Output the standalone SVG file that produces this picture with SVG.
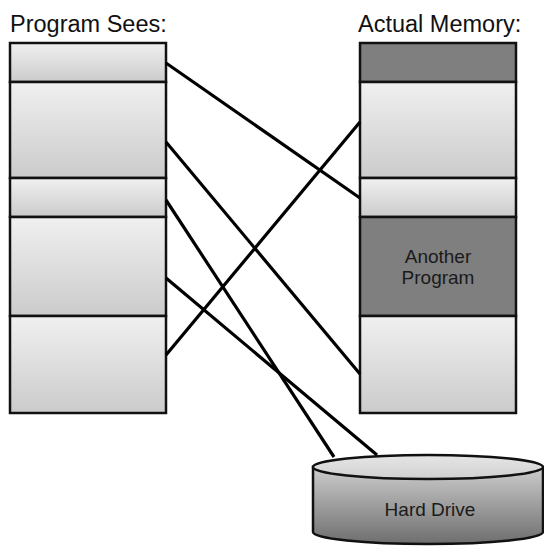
<svg xmlns="http://www.w3.org/2000/svg" width="544" height="546" viewBox="0 0 544 546">
<defs>
<linearGradient id="light" x1="0" y1="0" x2="0" y2="1">
<stop offset="0" stop-color="#f0f0f0"/>
<stop offset="1" stop-color="#cbcbcb"/>
</linearGradient>
<linearGradient id="drum" x1="0" y1="0" x2="0" y2="1">
<stop offset="0" stop-color="#cdcdcd"/>
<stop offset="1" stop-color="#6e6e6e"/>
</linearGradient>
<linearGradient id="lid" x1="0" y1="0" x2="0" y2="1">
<stop offset="0" stop-color="#e6e6e6"/>
<stop offset="1" stop-color="#d0d0d0"/>
</linearGradient>
</defs>
<style>
.title{font-family:"Liberation Sans",Arial,sans-serif;font-size:23.5px;fill:#111}
.lbl{font-family:"Liberation Sans",Arial,sans-serif;font-size:19px;fill:#1a1a1a;text-anchor:middle}
.blk{fill:url(#light);stroke:#111;stroke-width:2.5}
.dark{fill:#7f7f7f;stroke:#111;stroke-width:2.5}
.conn{stroke:#000;stroke-width:3.2;fill:none;stroke-linecap:butt}
</style>
<text class="title" x="10" y="31.5">Program Sees:</text>
<text class="title" x="358" y="31.5">Actual Memory:</text>
<g id="program-sees">
<rect id="ps1" class="blk" x="10" y="43" width="156" height="39"/>
<rect id="ps2" class="blk" x="10" y="82" width="156" height="96"/>
<rect id="ps3" class="blk" x="10" y="178" width="156" height="39"/>
<rect id="ps4" class="blk" x="10" y="217" width="156" height="99"/>
<rect id="ps5" class="blk" x="10" y="316" width="156" height="97"/>
</g>
<g id="actual-memory">
<rect id="am1" class="dark" x="360" y="43" width="156" height="39"/>
<rect id="am2" class="blk" x="360" y="82" width="156" height="96"/>
<rect id="am3" class="blk" x="360" y="178" width="156" height="39"/>
<g id="another-program">
<rect class="dark" x="360" y="217" width="156" height="99"/>
<text class="lbl" x="438" y="263">Another</text>
<text class="lbl" x="438" y="284">Program</text>
</g>
<rect id="am5" class="blk" x="360" y="316" width="156" height="97"/>
</g>
<g id="hard-drive">
<path d="M313,467 L313,532 A115,12 0 0 0 543,532 L543,467 Z" fill="url(#drum)" stroke="#111" stroke-width="2.5"/>
<ellipse cx="428" cy="467" rx="115" ry="12" fill="url(#lid)" stroke="#111" stroke-width="2.5"/>
<text class="lbl" x="430" y="516">Hard Drive</text>
</g>
<g id="connectors">
<line class="conn" x1="166" y1="63" x2="360" y2="198"/>
<line class="conn" x1="360" y1="122" x2="166" y2="355"/>
<line class="conn" x1="166" y1="142" x2="360" y2="374"/>
<line class="conn" x1="166" y1="200" x2="334" y2="457"/>
<line class="conn" x1="166" y1="278" x2="377" y2="455"/>
</g>
</svg>
